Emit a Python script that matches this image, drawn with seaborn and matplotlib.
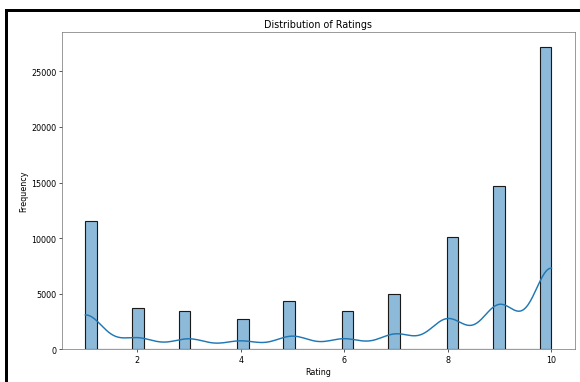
import seaborn as sns
import matplotlib.pyplot as plt
import numpy as np
import pandas as pd

# ratings and how often each one occurs
ratings = [1, 2, 3, 4, 5, 6, 7, 8, 9, 10]
counts = [11500, 3700, 3400, 2700, 4300, 3400, 5000, 10100, 14700, 27200]

df = pd.DataFrame({"Rating": np.repeat(ratings, counts)})

fig = plt.figure(figsize=(10, 6.603), dpi=58)
ax = fig.add_axes([0.107, 0.086, 0.884, 0.828])

sns.histplot(data=df, x="Rating", bins=40, kde=True, ax=ax,
             linewidth=1.4, edgecolor="#1a1a1a", line_kws={"linewidth": 1.8})

ax.set_title("Distribution of Ratings")
ax.set_xlabel("Rating")
ax.set_ylabel("Frequency")
for s in ax.spines.values():
    s.set_color("#666666")

# screenshot frame (left and top edges)
fig.add_artist(plt.Line2D([0.0095, 0.0095], [0, 0.9726], transform=fig.transFigure,
                          color="black", lw=3.7))
fig.add_artist(plt.Line2D([0.0095, 1], [0.9726, 0.9726], transform=fig.transFigure,
                          color="black", lw=3.7))

plt.savefig("out.png", dpi=58, facecolor="white")
